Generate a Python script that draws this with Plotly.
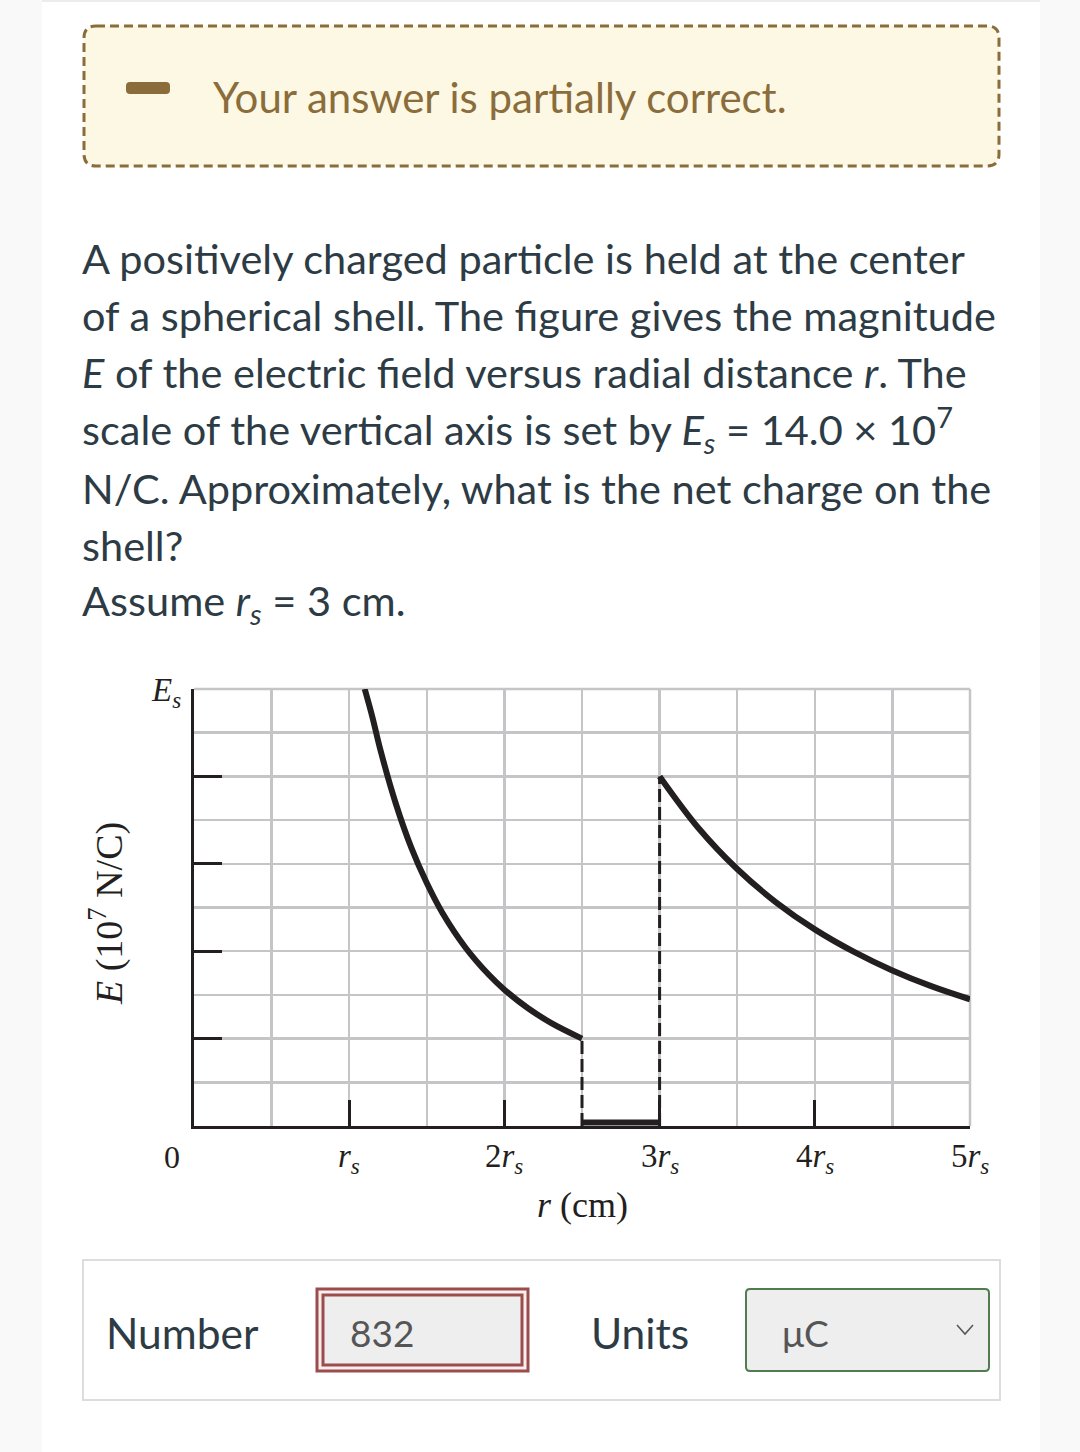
import plotly.graph_objects as go

W, H = 1080, 1452

# ---------------- data ----------------
# E in units of E_s, r in units of r_s
r_inner = [1.10, 1.15, 1.20, 1.30, 1.40, 1.50, 1.60, 1.75, 1.90, 2.00, 2.15, 2.30, 2.50]
E_inner = [1.00, 0.935, 0.862, 0.738, 0.637, 0.556, 0.488, 0.408, 0.346, 0.312, 0.270,
           0.236, 0.200]
r_outer = [3.00, 3.25, 3.50, 3.75, 4.00, 4.25, 4.50, 4.75, 5.00]
E_outer = [0.800, 0.682, 0.588, 0.512, 0.450, 0.399, 0.356, 0.320, 0.290]
r_shell = [2.5, 3.0]
E_shell = [0.008, 0.008]

x_tick_vals = [1, 2, 3, 4, 5]
x_tick_text = ["<i>r<sub>s</sub></i>", "2<i>r<sub>s</sub></i>", "3<i>r<sub>s</sub></i>",
               "4<i>r<sub>s</sub></i>", "5<i>r<sub>s</sub></i>"]
x_grid_vals = [0.5, 1.5, 2.5, 3.5, 4.5]
y_tick_vals = [0.2, 0.4, 0.6, 0.8, 1.0]
y_grid_vals = [0.1, 0.3, 0.5, 0.7, 0.9]

question_lines = [
    "A positively charged particle is held at the center",
    "of a spherical shell. The figure gives the magnitude",
    "<i>E</i> of the electric field versus radial distance <i>r</i>. The",
    "scale of the vertical axis is set by <i>E<sub>s</sub></i> = 14.0 × 10<sup>7</sup>",
    "N/C. Approximately, what is the net charge on the",
    "shell?",
    "Assume <i>r<sub>s</sub></i> = 3 cm.",
]

INK = "#231f20"
GRID = "#c5c5c7"
TEXT = "#2d3b45"
BROWN = "#8b6d3b"
SERIF = "Liberation Serif"
SANS = "Lato"


def px(x):
    return x / W


def py(y):
    return 1 - y / H


def rrect(x0, y0, x1, y1, r):
    """rounded rectangle path in paper coords from pixel box"""
    rx, ry = r / W, r / H
    a, b, c, d = px(x0), py(y0), px(x1), py(y1)  # b top, d bottom (b > d)
    return (f"M {a+rx},{b} L {c-rx},{b} Q {c},{b} {c},{b-ry} "
            f"L {c},{d+ry} Q {c},{d} {c-rx},{d} L {a+rx},{d} "
            f"Q {a},{d} {a},{d+ry} L {a},{b-ry} Q {a},{b} {a+rx},{b} Z")


fig = go.Figure()

# curves
fig.add_trace(go.Scatter(x=r_inner, y=E_inner, mode="lines",
                         line=dict(color=INK, width=6, shape="spline", smoothing=1.0),
                         cliponaxis=True, hoverinfo="skip"))
fig.add_trace(go.Scatter(x=r_outer, y=E_outer, mode="lines",
                         line=dict(color=INK, width=6, shape="spline", smoothing=1.0),
                         cliponaxis=True, hoverinfo="skip"))
# dashed drops
fig.add_trace(go.Scatter(x=[r_inner[-1], r_inner[-1]], y=[0, E_inner[-1]], mode="lines",
                         line=dict(color=INK, width=3, dash="13px,5px"), hoverinfo="skip"))
fig.add_trace(go.Scatter(x=[r_outer[0], r_outer[0]], y=[0, E_outer[0]], mode="lines",
                         line=dict(color=INK, width=3, dash="13px,5px"), hoverinfo="skip"))
# zero field inside shell
fig.add_trace(go.Scatter(x=r_shell, y=E_shell, mode="lines",
                         line=dict(color=INK, width=6), cliponaxis=False, hoverinfo="skip"))

x0p, x1p = 194, 970
y0p, y1p = 689, 1126

fig.update_xaxes(domain=[px(x0p), px(x1p)], range=[0, 5], fixedrange=True,
                 tickmode="array", tickvals=x_tick_vals, showticklabels=False,
                 ticks="inside", ticklen=26, tickwidth=3, tickcolor=INK,
                 showgrid=True, gridcolor=GRID, gridwidth=2.5,
                 minor=dict(tickmode="array", tickvals=x_grid_vals, showgrid=True,
                            gridcolor=GRID, gridwidth=2.5, ticks=""),
                 showline=True, linecolor=INK, linewidth=3, zeroline=False)
fig.update_yaxes(domain=[py(y1p), py(y0p)], range=[0, 1], fixedrange=True,
                 tickmode="array", tickvals=y_tick_vals, showticklabels=False,
                 ticks="inside", ticklen=28, tickwidth=3, tickcolor=INK,
                 showgrid=True, gridcolor=GRID, gridwidth=2.5,
                 minor=dict(tickmode="array", tickvals=y_grid_vals, showgrid=True,
                            gridcolor=GRID, gridwidth=2.5, ticks=""),
                 showline=True, linecolor=INK, linewidth=3, zeroline=False)

shapes = []
# page background
shapes.append(dict(type="rect", xref="paper", yref="paper", x0=px(42), x1=px(1040),
                   y0=0, y1=py(2), fillcolor="white", line=dict(width=0), layer="below"))
shapes.append(dict(type="rect", xref="paper", yref="paper", x0=px(42), x1=px(1040),
                   y0=py(2), y1=1, fillcolor="#ececec", line=dict(width=0), layer="below"))
# banner
shapes.append(dict(type="path", xref="paper", yref="paper", path=rrect(84, 26, 999, 166, 12),
                   fillcolor="#fdf8e4", line=dict(color=BROWN, width=3, dash="9px,5px"),
                   layer="below"))
shapes.append(dict(type="path", xref="paper", yref="paper", path=rrect(126, 82, 170, 94, 4),
                   fillcolor=BROWN, line=dict(width=0), layer="below"))
# plot border top/right (gray)
shapes.append(dict(type="line", xref="x domain", yref="y domain", x0=0, x1=1, y0=1, y1=1,
                   line=dict(color=GRID, width=2.5), layer="below"))
shapes.append(dict(type="line", xref="x domain", yref="y domain", x0=1, x1=1, y0=0, y1=1,
                   line=dict(color=GRID, width=2.5), layer="below"))
# answer box
shapes.append(dict(type="rect", xref="paper", yref="paper", x0=px(83), x1=px(1000),
                   y0=py(1400), y1=py(1260), fillcolor="white",
                   line=dict(color="#dddddd", width=2), layer="below"))
shapes.append(dict(type="rect", xref="paper", yref="paper", x0=px(317), x1=px(528),
                   y0=py(1371), y1=py(1289), fillcolor="#fbeeee",
                   line=dict(color="#9b4d4d", width=3), layer="below"))
shapes.append(dict(type="rect", xref="paper", yref="paper", x0=px(323), x1=px(522),
                   y0=py(1365), y1=py(1295), fillcolor="#eeeeee",
                   line=dict(color="#9b4d4d", width=3), layer="below"))
shapes.append(dict(type="path", xref="paper", yref="paper", path=rrect(746, 1289, 989, 1371, 4),
                   fillcolor="#eeeeee", line=dict(color="#4f7d4f", width=2), layer="below"))
shapes.append(dict(type="path", xref="paper", yref="paper",
                   path=f"M {px(957)},{py(1325)} L {px(965)},{py(1334)} L {px(973)},{py(1325)}",
                   line=dict(color="#555555", width=1.5), layer="below"))

ann = []
ann.append(dict(text="Your answer is partially correct.", x=px(211), y=py(97),
                xanchor="left", yanchor="middle", font=dict(family=SANS, size=42, color=BROWN)))
line_y = [258, 315, 372, 430, 488, 545, 603]
for t, yy in zip(question_lines, line_y):
    ann.append(dict(text=t, x=px(80), y=py(yy), xanchor="left", yanchor="middle",
                    font=dict(family=SANS, size=41.5, color=TEXT)))

# axis labels
for v, t in zip(x_tick_vals, x_tick_text):
    ann.append(dict(text=t, x=v, xref="x", y=py(1158), yref="paper", xanchor="center",
                    yanchor="middle", font=dict(family=SERIF, size=33, color=INK)))
ann.append(dict(text="0", x=0, xref="x", xshift=-22, y=py(1157), yref="paper",
                xanchor="center", yanchor="middle", font=dict(family=SERIF, size=32, color=INK)))
ann.append(dict(text="<i>r</i> (cm)", x=px(582), y=py(1205), xanchor="center", yanchor="middle",
                font=dict(family=SERIF, size=36, color=INK)))
ann.append(dict(text="<i>E<sub>s</sub></i>", x=px(166), y=py(692), xanchor="center",
                yanchor="middle", font=dict(family=SERIF, size=33, color=INK)))
ann.append(dict(text="<i>E</i> (10<sup>7</sup> N/C)", x=px(106), y=py(914), xanchor="center",
                yanchor="middle", textangle=-90, font=dict(family=SERIF, size=38, color=INK)))

# answer row
ann.append(dict(text="Number", x=px(104), y=py(1332), xanchor="left", yanchor="middle",
                font=dict(family=SANS, size=42.5, color=TEXT)))
ann.append(dict(text="832", x=px(348), y=py(1332), xanchor="left", yanchor="middle",
                font=dict(family=SANS, size=37, color="#555555")))
ann.append(dict(text="Units", x=px(589), y=py(1332), xanchor="left", yanchor="middle",
                font=dict(family=SANS, size=42.5, color=TEXT)))
ann.append(dict(text="μC", x=px(780), y=py(1332), xanchor="left", yanchor="middle",
                font=dict(family=SANS, size=37, color="#555555")))

for a in ann:
    a.setdefault("xref", "paper")
    a.setdefault("yref", "paper")
    a["showarrow"] = False

fig.update_layout(width=W, height=H, autosize=False, margin=dict(l=0, r=0, t=0, b=0),
                  paper_bgcolor="#f9f9f9", plot_bgcolor="white", showlegend=False,
                  shapes=shapes, annotations=ann)

fig.write_html("out.html", config={"displayModeBar": False, "staticPlot": True},
               post_script="document.body.style.margin='0';")
